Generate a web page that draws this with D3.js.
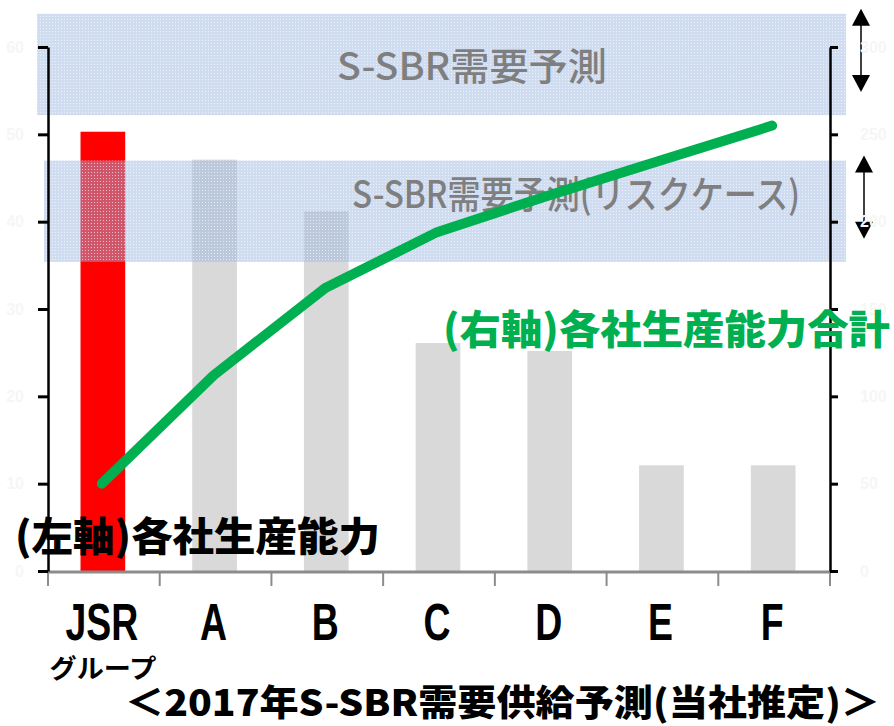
<script src="https://cdn.jsdelivr.net/npm/d3@7/dist/d3.min.js"></script>
<style>
body { margin: 0; background: #fff; }
svg { display: block; }
.jp { font-family: "Noto Sans CJK JP", sans-serif; }
</style>
<svg width="894" height="726"></svg>
<script>
// companies and capacities (left axis), cumulative capacity (right axis)
const categories = ['JSR', 'A', 'B', 'C', 'D', 'E', 'F'];
const capacity = [50.3, 47.1, 41.2, 26.1, 25.2, 12.1, 12.1];
const capacityTotal = [50, 112, 162, 194, 215, 235, 255];
const leftTicks = [0, 10, 20, 30, 40, 50, 60];
const rightTicks = [0, 50, 100, 150, 200, 250, 300];

// demand forecast ranges, in right axis units
const demandLabels = ['S-SBR需要予測', 'S-SBR需要予測(リスクケース)'];
const demandLow = [261, 177];
const demandHigh = [319, 235];

const svg = d3.select('svg');
const plotLeft = 48, plotRight = 830, plotTop = 47, plotBottom = 571;

const x = d3.scaleBand().domain(categories).range([plotLeft, plotRight]);
const yL = d3.scaleLinear().domain([0, 60]).range([plotBottom, plotTop]);
const yR = d3.scaleLinear().domain([0, 300]).range([plotBottom, plotTop]);
const cx = d => x(d) + x.bandwidth() / 2 - 2;

const defs = svg.append('defs');
const pat = defs.append('pattern')
  .attr('id', 'grid')
  .attr('width', 3).attr('height', 3)
  .attr('patternUnits', 'userSpaceOnUse');
pat.append('rect').attr('width', 3).attr('height', 3)
  .attr('fill', '#9cb6de').attr('opacity', 0.48);
pat.append('rect').attr('x', 1).attr('y', 1).attr('width', 1).attr('height', 1)
  .attr('fill', '#fff').attr('opacity', 0.6);

// bars
const bw = x.bandwidth() * 0.4;
svg.append('g').selectAll('rect')
  .data(categories)
  .join('rect')
  .attr('x', d => cx(d) - bw / 2 + 1)
  .attr('width', bw)
  .attr('y', (d, i) => yL(capacity[i]))
  .attr('height', (d, i) => yL(0) - yL(capacity[i]))
  .attr('fill', (d, i) => i === 0 ? '#ff0000' : '#d9d9d9');

// demand bands
const bandLeft = [37, 44];
svg.append('g').selectAll('rect')
  .data(demandLabels)
  .join('rect')
  .attr('x', (d, i) => bandLeft[i])
  .attr('width', (d, i) => 846 - bandLeft[i])
  .attr('y', (d, i) => yR(demandHigh[i]))
  .attr('height', (d, i) => yR(demandLow[i]) - yR(demandHigh[i]))
  .attr('fill', 'url(#grid)');

const labelPos = [[472, 80, 270], [576, 208, 448]];
svg.append('g').selectAll('text')
  .data(demandLabels)
  .join('text')
  .attr('class', 'jp')
  .attr('x', (d, i) => labelPos[i][0])
  .attr('y', (d, i) => labelPos[i][1])
  .attr('text-anchor', 'middle')
  .attr('font-size', 38)
  .attr('font-weight', 500)
  .attr('fill', '#7f7f7f')
  .attr('textLength', (d, i) => labelPos[i][2])
  .attr('lengthAdjust', 'spacingAndGlyphs')
  .text(d => d);

// double arrows beside the bands
const arrowX = [861, 864];
demandLabels.forEach((d, i) => {
  const y1 = yR(demandHigh[i]) - 5, y2 = yR(demandLow[i]) - 23;
  const ax = arrowX[i];
  const g = svg.append('g');
  g.append('line').attr('x1', ax).attr('x2', ax).attr('y1', y1 + 10).attr('y2', y2 - 10)
    .attr('stroke', '#000').attr('stroke-width', 1.5);
  g.append('path').attr('d', `M${ax},${y1}L${ax - 9},${y1 + 17}L${ax + 9},${y1 + 17}Z`).attr('fill', '#000');
  g.append('path').attr('d', `M${ax},${y2}L${ax - 9},${y2 - 17}L${ax + 9},${y2 - 17}Z`).attr('fill', '#000');
});

// x axis
svg.append('line')
  .attr('x1', plotLeft).attr('x2', plotRight).attr('y1', plotBottom + 1).attr('y2', plotBottom + 1)
  .attr('stroke', '#8c8c8c').attr('stroke-width', 3);
svg.append('g').selectAll('line')
  .data(d3.range(categories.length + 1))
  .join('line')
  .attr('x1', i => plotLeft + i * x.step()).attr('x2', i => plotLeft + i * x.step())
  .attr('y1', plotBottom + 1).attr('y2', plotBottom + 15)
  .attr('stroke', '#8c8c8c').attr('stroke-width', 2);

// left and right axes (tick labels are almost white in the original)
const axL = svg.append('g').attr('transform', `translate(${plotLeft},0)`)
  .call(d3.axisLeft(yL).tickValues(leftTicks).tickSize(10).tickSizeOuter(0).tickPadding(14));
const axR = svg.append('g').attr('transform', `translate(${plotRight},0)`)
  .call(d3.axisRight(yR).tickValues(rightTicks).tickSize(8).tickSizeOuter(0).tickPadding(22));
[axL, axR].forEach(ax => {
  ax.select('.domain').attr('stroke', '#000').attr('stroke-width', 2.5);
  ax.selectAll('.tick line').attr('stroke', '#000').attr('stroke-width', 3);
  ax.selectAll('.tick text').attr('fill', '#f6f6f6').attr('font-size', 16).attr('font-weight', 'bold');
});

// cumulative line
const line = d3.line()
  .x((d, i) => cx(categories[i]))
  .y(d => yR(d));
svg.append('path')
  .datum(capacityTotal)
  .attr('d', line)
  .attr('fill', 'none')
  .attr('stroke', '#00b050')
  .attr('stroke-width', 10)
  .attr('stroke-linecap', 'round')
  .attr('stroke-linejoin', 'round');

// category labels
svg.append('g').selectAll('text')
  .data(categories)
  .join('text')
  .attr('transform', d => `translate(${cx(d)},640) scale(0.72,1)`)
  .attr('text-anchor', 'middle')
  .attr('font-family', '"Liberation Sans", Arial, sans-serif')
  .attr('font-weight', 'bold')
  .attr('font-size', 52)
  .text(d => d);

svg.append('text').attr('class', 'jp')
  .attr('x', 103).attr('y', 678).attr('text-anchor', 'middle')
  .attr('font-size', 26).attr('font-weight', 'bold')
  .attr('textLength', 107).attr('lengthAdjust', 'spacingAndGlyphs')
  .text('グループ');

// series labels
svg.append('text').attr('class', 'jp')
  .attr('x', 15).attr('y', 551)
  .attr('font-size', 40).attr('font-weight', 900).attr('fill', '#000')
  .attr('textLength', 365).attr('lengthAdjust', 'spacingAndGlyphs')
  .text('(左軸)各社生産能力');

svg.append('text').attr('class', 'jp')
  .attr('x', 443).attr('y', 344)
  .attr('font-size', 40).attr('font-weight', 900).attr('fill', '#00b050')
  .attr('textLength', 447).attr('lengthAdjust', 'spacingAndGlyphs')
  .text('(右軸)各社生産能力合計');

// bottom title
svg.append('text').attr('class', 'jp')
  .attr('x', 125).attr('y', 716)
  .attr('font-size', 36).attr('font-weight', 900).attr('fill', '#000')
  .attr('textLength', 755).attr('lengthAdjust', 'spacingAndGlyphs')
  .text('＜2017年S-SBR需要供給予測(当社推定)＞');
</script>
